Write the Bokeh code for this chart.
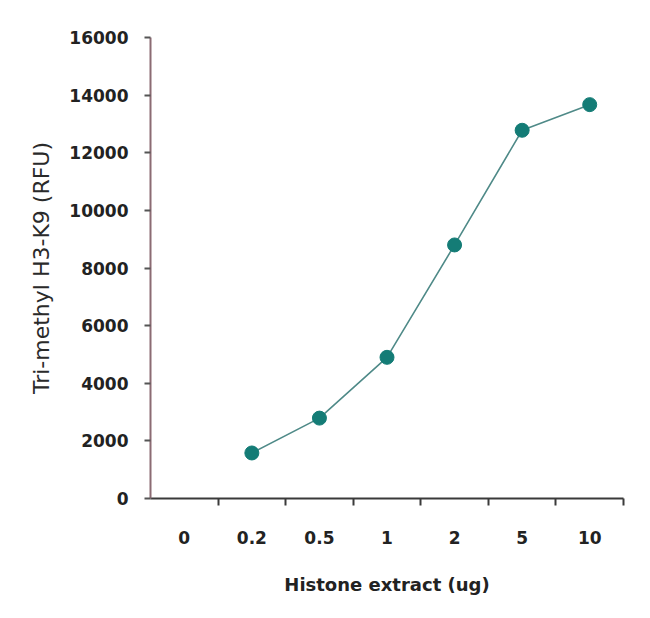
from bokeh.plotting import figure
from bokeh.models import FixedTicker, Range1d, ColumnDataSource
from bokeh.embed import file_html
from bokeh.resources import INLINE

# Data
categories = ["0", "0.2", "0.5", "1", "2", "5", "10"]
dose_labels = ["0.2", "0.5", "1", "2", "5", "10"]
rfu_values = [1580, 2790, 4900, 8800, 12780, 13670]
y_ticks = [0, 2000, 4000, 6000, 8000, 10000, 12000, 14000, 16000]

x_pos = [categories.index(c) + 0.5 for c in dose_labels]
src = ColumnDataSource(dict(x=x_pos, y=rfu_values, label=dose_labels))

p = figure(width=634, height=602, output_backend="svg", toolbar_location=None,
           x_range=Range1d(0, len(categories)), y_range=Range1d(0, 16000),
           min_border_left=150, min_border_right=11, min_border_top=37, min_border_bottom=104)
p.outline_line_color = None
p.xgrid.grid_line_color = None
p.ygrid.grid_line_color = None

p.line("x", "y", source=src, line_color="#4f8a88", line_width=1.6)
p.scatter("x", "y", source=src, size=14, fill_color="#147c76", line_color="#147c76")

# X axis: labels at category centres, ticks at category boundaries
xa = p.xaxis[0]
centres = [i + 0.5 for i in range(len(categories))]
xa.ticker = FixedTicker(ticks=centres, minor_ticks=list(range(1, len(categories) + 1)))
xa.major_label_overrides = {c: lab for c, lab in zip(centres, categories)}
xa.major_tick_line_color = None
xa.major_tick_out = 0
xa.major_tick_in = 0
xa.minor_tick_out = 7
xa.minor_tick_in = 0
xa.minor_tick_line_color = "#3a3a3a"
xa.minor_tick_line_width = 2
xa.axis_line_color = "#3a3a3a"
xa.axis_line_width = 2
xa.major_label_standoff = 25
xa.major_label_text_font = "DejaVu Sans"
xa.major_label_text_font_style = "bold"
xa.major_label_text_font_size = "17px"
xa.major_label_text_color = "#222222"
xa.axis_label = "Histone extract (ug)"
xa.axis_label_text_font = "DejaVu Sans"
xa.axis_label_text_font_style = "bold"
xa.axis_label_text_font_size = "18px"
xa.axis_label_text_color = "#222222"
xa.axis_label_standoff = 27

ya = p.yaxis[0]
ya.ticker = FixedTicker(ticks=y_ticks, minor_ticks=[])
ya.major_tick_out = 6
ya.major_tick_in = 0
ya.major_tick_line_color = "#555555"
ya.major_tick_line_width = 2
ya.axis_line_color = "#8b6b73"
ya.axis_line_width = 2
ya.major_label_standoff = 16
ya.major_label_text_font = "DejaVu Sans"
ya.major_label_text_font_style = "bold"
ya.major_label_text_font_size = "17px"
ya.major_label_text_color = "#222222"
ya.axis_label = "Tri-methyl H3-K9 (RFU)"
ya.axis_label_text_font = "DejaVu Sans"
ya.axis_label_text_font_style = "normal"
ya.axis_label_text_font_size = "22px"
ya.axis_label_text_color = "#2a2a2a"
ya.axis_label_standoff = 12

open("out.html", "w").write(file_html(p, INLINE))
